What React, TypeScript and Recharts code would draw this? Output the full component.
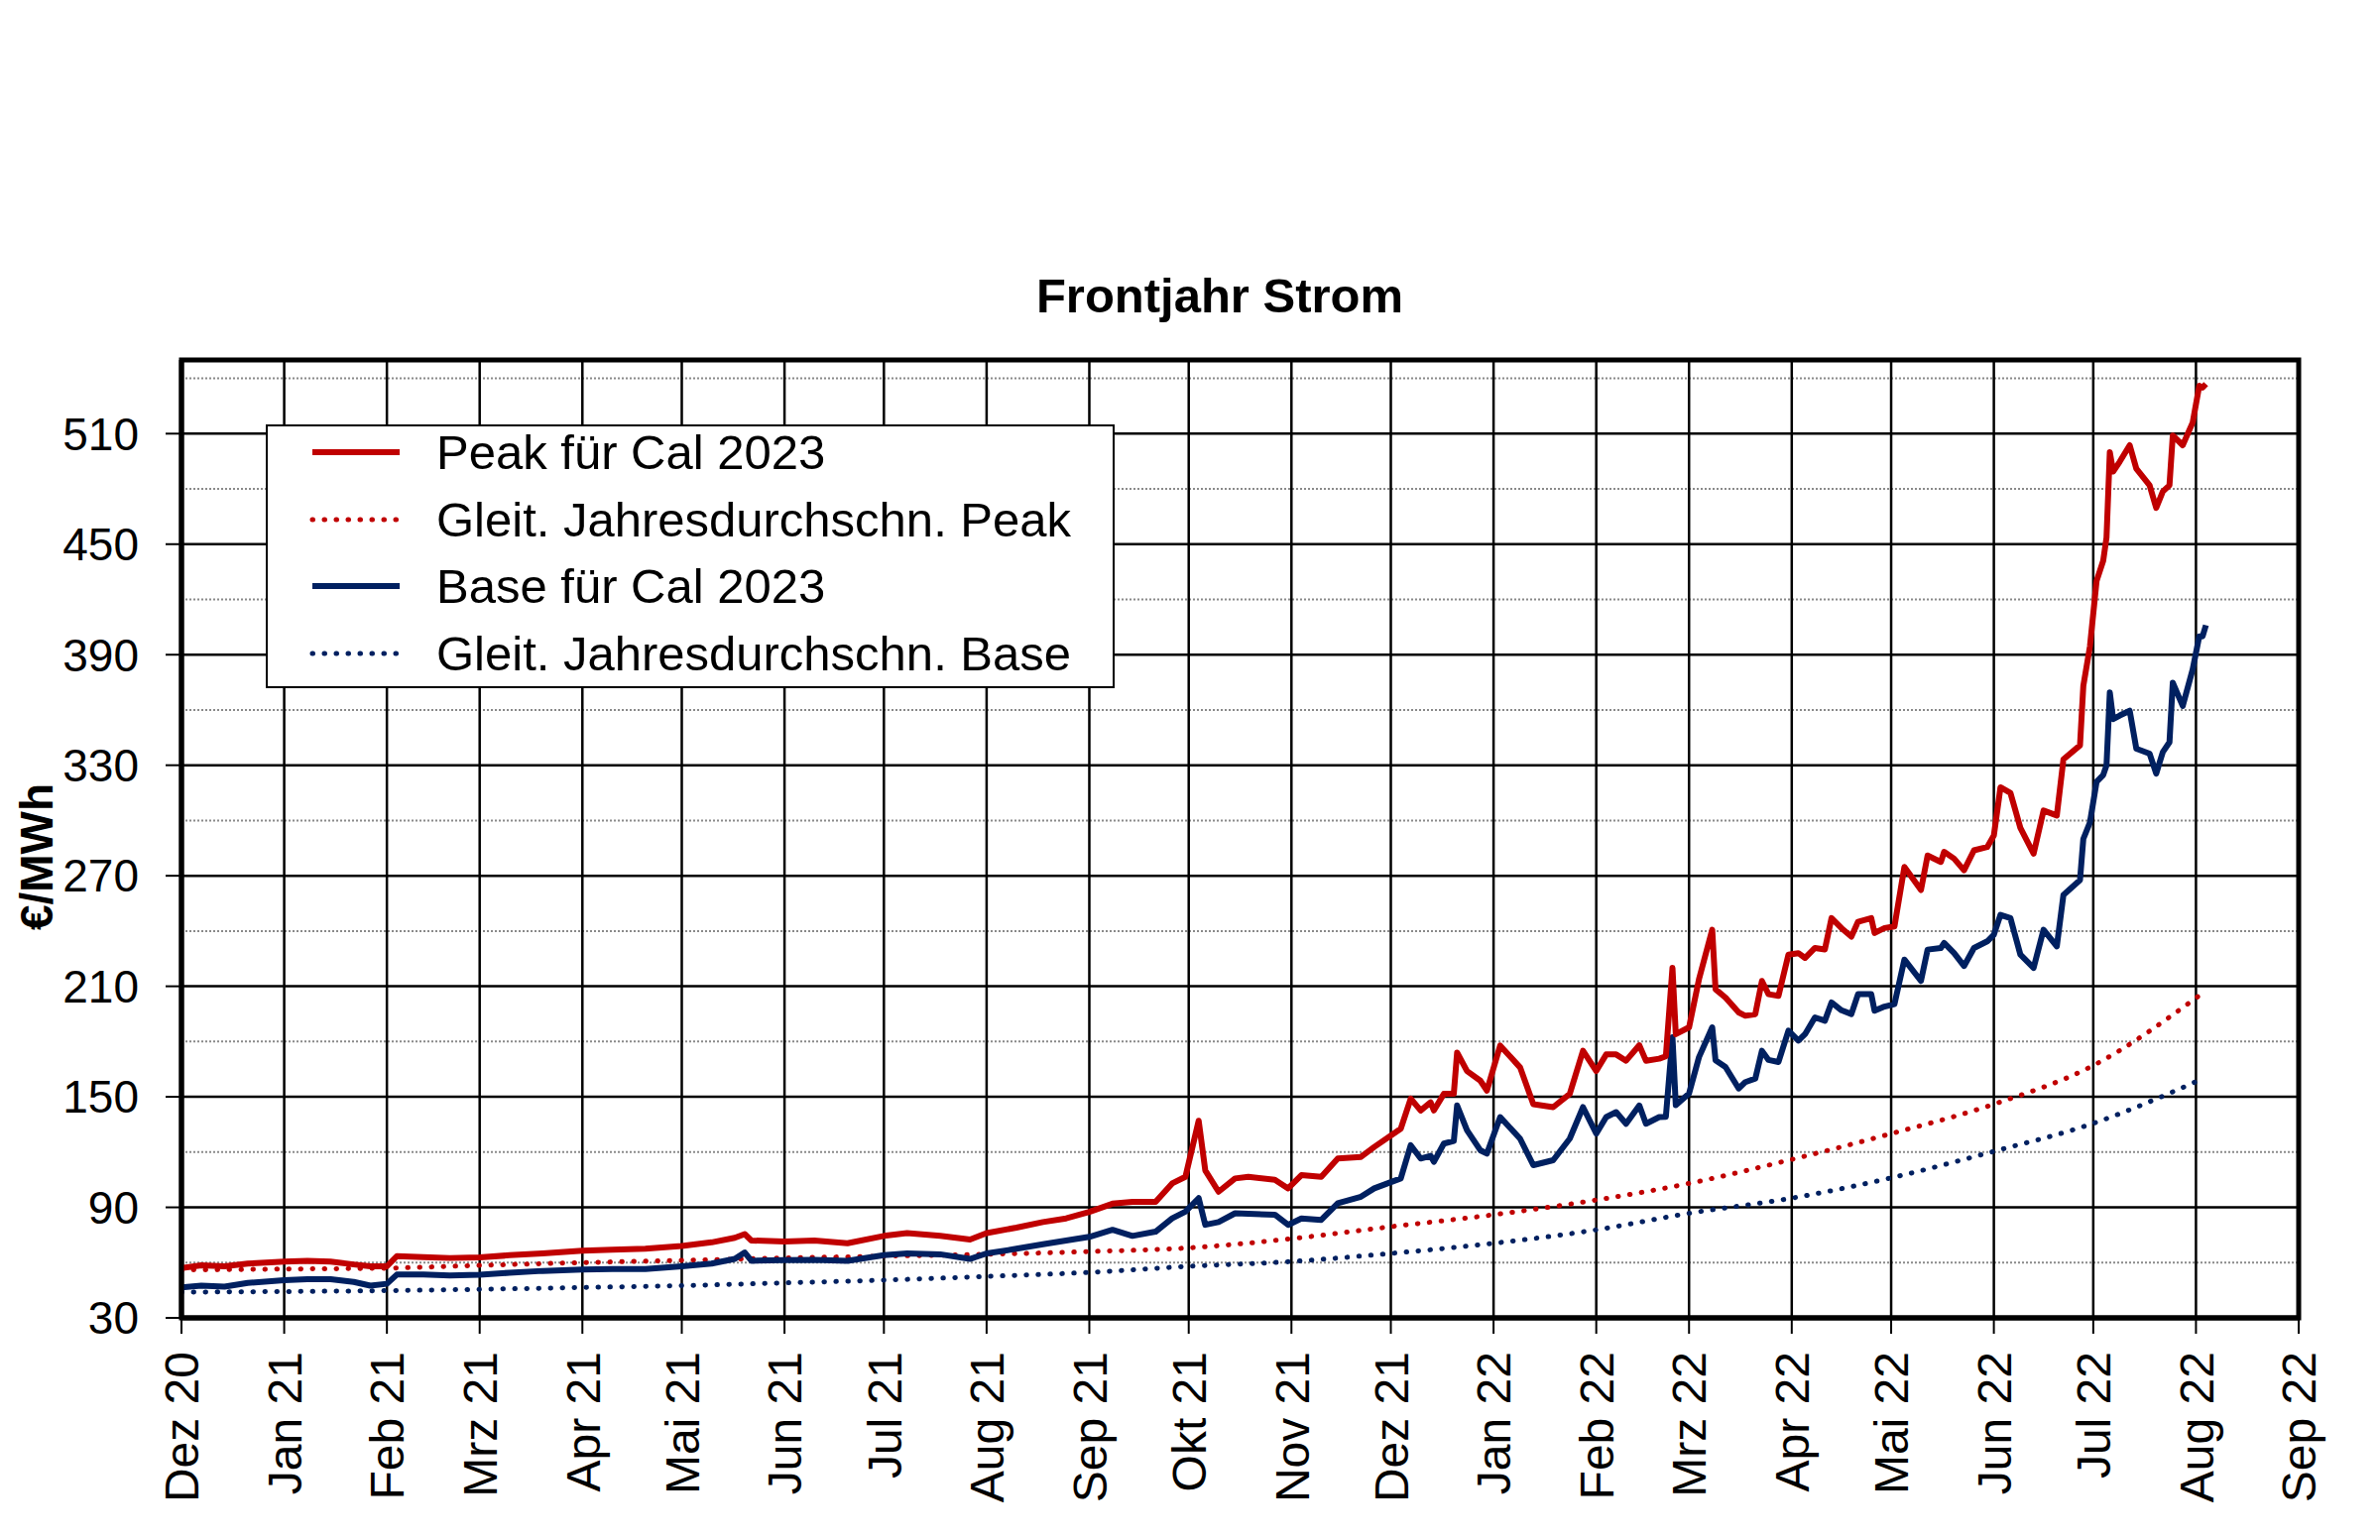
import React from 'react';
import { LineChart, Line, XAxis, YAxis, CartesianGrid, ReferenceArea } from 'recharts';

// ---------- data ----------
const dates = [
  '2020-12-01','2020-12-07','2020-12-14','2020-12-21','2021-01-01','2021-01-08','2021-01-15','2021-01-22','2021-01-27',
  '2021-02-01','2021-02-04','2021-02-12','2021-02-20','2021-03-01','2021-03-10','2021-03-20','2021-04-01','2021-04-10',
  '2021-04-20','2021-05-01','2021-05-10','2021-05-17','2021-05-20','2021-05-22','2021-06-01','2021-06-10','2021-06-20',
  '2021-07-01','2021-07-08','2021-07-18','2021-07-27','2021-08-01','2021-08-10','2021-08-18','2021-08-25','2021-09-01',
  '2021-09-08','2021-09-14','2021-09-21','2021-09-26','2021-09-30','2021-10-04','2021-10-06','2021-10-10','2021-10-15',
  '2021-10-19','2021-10-27','2021-10-31','2021-11-04','2021-11-10','2021-11-15','2021-11-22','2021-11-26','2021-12-04',
  '2021-12-07','2021-12-10','2021-12-13','2021-12-14','2021-12-17','2021-12-20','2021-12-21','2021-12-24','2021-12-28',
  '2021-12-30','2022-01-03','2022-01-09','2022-01-13','2022-01-19','2022-01-24','2022-01-28','2022-02-01','2022-02-04',
  '2022-02-07','2022-02-10','2022-02-14','2022-02-16','2022-02-20','2022-02-22','2022-02-24','2022-02-25','2022-03-01',
  '2022-03-04','2022-03-08','2022-03-09','2022-03-12','2022-03-16','2022-03-18','2022-03-21','2022-03-23','2022-03-25',
  '2022-03-28','2022-03-31','2022-04-03','2022-04-05','2022-04-08','2022-04-11','2022-04-13','2022-04-16','2022-04-19',
  '2022-04-21','2022-04-25','2022-04-26','2022-04-29','2022-05-02','2022-05-05','2022-05-10','2022-05-12','2022-05-16',
  '2022-05-17','2022-05-20','2022-05-23','2022-05-26','2022-05-30','2022-06-01','2022-06-03','2022-06-06','2022-06-09',
  '2022-06-13','2022-06-16','2022-06-20','2022-06-22','2022-06-27','2022-06-28','2022-06-30','2022-07-02','2022-07-04',
  '2022-07-05','2022-07-06','2022-07-07','2022-07-09','2022-07-12','2022-07-14','2022-07-18','2022-07-20','2022-07-22',
  '2022-07-24','2022-07-25','2022-07-28','2022-07-31','2022-08-02','2022-08-03','2022-08-04',
];

const peakValues = [
  57, 58.5, 58, 59.5, 60.5, 61, 60.5, 59, 58,
  58, 63.5, 63, 62.5, 62.8, 64, 65, 66.5, 67,
  67.5, 69, 71, 73.5, 75.5, 72, 71.5, 72, 70.5,
  74.5, 76, 74.5, 72.5, 76, 79, 82, 84, 87.5,
  92, 93, 93, 103, 106.6, 137, 110, 98.5, 105.7,
  106.6, 105, 100.3, 107.5, 106.6, 116.5, 117.4, 122.8, 132.7,
  149, 142.6, 147, 142.6, 151.6, 151.6, 174, 164, 158.8,
  153.4, 177.8, 166, 146, 144.4, 151.6, 175, 164, 173,
  173, 169.6, 178, 169.6, 170.7, 172, 220, 184, 187.7,
  213.8, 240.7, 208.4, 203.9, 195.8, 194, 194.9, 212.9, 205.7,
  204.8, 227.2, 228, 225.4, 230.8, 230, 247, 241.6, 237,
  245, 247, 238.9, 241.6, 242.5, 274.8, 262.3, 281, 277.5,
  283, 279.3, 273, 283.8, 285.6, 291.9, 318, 315, 296,
  282, 305.4, 302.7, 333.2, 340.8, 373, 394.5, 430, 441,
  453.6, 500, 489.4, 494.8, 503.7, 491, 482, 469.7, 478.6,
  482, 509, 503.7, 516, 536, 535, 537,
];

const baseValues = [
  46.5, 47.5, 47, 49, 50.5, 51, 51, 49.5, 47.5,
  48.5, 53.5, 53.5, 53, 53.4, 54.5, 55.5, 56.2, 56.5,
  56.5, 58, 59.5, 62, 65.5, 61, 61.3, 61.5, 61,
  64, 65, 64.5, 62, 65, 67.5, 70, 72, 74,
  77.8, 74.5, 76.8, 84, 87.7, 95, 80.5, 82, 86.8,
  86.5, 86, 80.5, 84, 83.2, 92.2, 95.8, 100.3, 105.7,
  123.7, 116.5, 118, 114.7, 124.6, 126, 145.3, 131.8, 121,
  119.2, 139, 127.3, 112.9, 115.6, 127.3, 144.4, 130, 139,
  141.7, 135.4, 145.3, 135.4, 139, 139.2, 182.3, 145.5, 151.8,
  171.5, 187.7, 169.8, 166.2, 154.5, 158, 159.9, 175, 170,
  168.9, 185.9, 180.5, 184, 193.1, 191.3, 201.2, 197, 194.9,
  205.7, 205.7, 196.7, 199, 200.3, 224.5, 212.9, 229.9, 230.8,
  233.5, 228, 221, 230.8, 234.4, 238, 248.8, 247, 227.2,
  220, 240.7, 231.7, 259.6, 267.6, 290, 299, 321, 324.7,
  330, 369.5, 355, 357, 359.6, 339, 336.3, 325.5, 337.2,
  342.5, 374.8, 362.2, 382, 400, 400, 406,
];

const avgDates = [
  '2020-12-01','2021-01-01','2021-02-01','2021-03-01','2021-04-01','2021-05-01','2021-06-01','2021-07-01',
  '2021-08-01','2021-09-01','2021-10-01','2021-11-01','2021-12-01','2022-01-01','2022-02-01','2022-03-01',
  '2022-04-01','2022-05-01','2022-06-01','2022-07-01','2022-08-02',
];
const peakAvgValues = [56, 56.5, 57, 58.5, 60, 61.2, 62.5, 63.5, 64.5, 66, 68, 73, 79.5, 86, 94, 103, 116, 130, 146, 167, 205];
const baseAvgValues = [44, 44.3, 44.8, 45.5, 46.5, 47.5, 49, 50.5, 52.5, 54.7, 58, 60.6, 65, 70.5, 77.8, 86.8, 95, 106, 120.4, 135.6, 159];

const monthTickDates = [
  '2020-12-01','2021-01-01','2021-02-01','2021-03-01','2021-04-01','2021-05-01','2021-06-01','2021-07-01',
  '2021-08-01','2021-09-01','2021-10-01','2021-11-01','2021-12-01','2022-01-01','2022-02-01','2022-03-01',
  '2022-04-01','2022-05-01','2022-06-01','2022-07-01','2022-08-01','2022-09-01',
];
const monthLabels = [
  'Dez 20','Jan 21','Feb 21','Mrz 21','Apr 21','Mai 21','Jun 21','Jul 21','Aug 21','Sep 21','Okt 21',
  'Nov 21','Dez 21','Jan 22','Feb 22','Mrz 22','Apr 22','Mai 22','Jun 22','Jul 22','Aug 22','Sep 22',
];

const yMajorTicks = [30, 90, 150, 210, 270, 330, 390, 450, 510];
const yMinorLines = [60, 120, 180, 240, 300, 360, 420, 480, 540];

const seriesNames = [
  'Peak für Cal 2023',
  'Gleit. Jahresdurchschn. Peak',
  'Base für Cal 2023',
  'Gleit. Jahresdurchschn. Base',
];
const title = 'Frontjahr Strom';
const yAxisTitle = '€/MWh';

// ---------- helpers ----------
const START = Date.UTC(2020, 11, 1);
const toDay = (s: string) =>
  (Date.UTC(+s.slice(0, 4), +s.slice(5, 7) - 1, +s.slice(8, 10)) - START) / 86400000;

const mainRows = dates.map((d, i) => ({ t: toDay(d), peak: peakValues[i], base: baseValues[i] }));
const avgRows = avgDates.map((d, i) => ({ t: toDay(d), peakAvg: peakAvgValues[i], baseAvg: baseAvgValues[i] }));
const monthTicks = monthTickDates.map(toDay);
const labelByTick: Record<number, string> = {};
monthTicks.forEach((t, i) => (labelByTick[t] = monthLabels[i]));

const RED = '#c00000';
const NAVY = '#002060';
const FONT = '"Liberation Sans", Arial, sans-serif';
const DOT = '0.5 11.5';

const XTick = (props: any) => {
  const { x, y, payload } = props;
  return (
    <text
      x={x}
      y={y}
      transform={`rotate(-90, ${x}, ${y})`}
      textAnchor="end"
      dy="0.36em"
      fontSize={48}
      fontFamily={FONT}
      fill="#000"
    >
      {labelByTick[payload.value]}
    </text>
  );
};

const YLabel = (props: any) => {
  const vb = props.viewBox || { x: 0, y: 363, width: 183, height: 966 };
  const cx = vb.x + 36;
  const cy = vb.y + vb.height / 2 + 18;
  return (
    <text
      x={cx}
      y={cy}
      transform={`rotate(-90, ${cx}, ${cy})`}
      textAnchor="middle"
      dy="0.36em"
      fontSize={46}
      fontWeight="bold"
      fontFamily={FONT}
      fill="#000"
    >
      {yAxisTitle}
    </text>
  );
};

const LegendBox = () => {
  const styles = [
    { color: RED, dash: undefined as string | undefined },
    { color: RED, dash: DOT },
    { color: NAVY, dash: undefined as string | undefined },
    { color: NAVY, dash: DOT },
  ];
  return (
    <div
      style={{
        position: 'absolute',
        left: 268,
        top: 428,
        width: 852,
        height: 262,
        background: '#fff',
        border: '2px solid #000',
        fontFamily: FONT,
      }}
    >
      {seriesNames.map((n, i) => (
        <div
          key={n}
          style={{
            position: 'absolute',
            left: 42,
            top: -7 + i * 67.5,
            height: 66,
            display: 'flex',
            alignItems: 'center',
            whiteSpace: 'nowrap',
          }}
        >
          <svg width={94} height={20} style={{ display: 'block' }}>
            <line
              x1={3}
              y1={10}
              x2={91}
              y2={10}
              stroke={styles[i].color}
              strokeWidth={styles[i].dash ? 5 : 6}
              strokeDasharray={styles[i].dash}
              strokeLinecap={styles[i].dash ? 'round' : 'butt'}
            />
          </svg>
          <span style={{ marginLeft: 34, fontSize: 49, color: '#000', lineHeight: '66px' }}>{n}</span>
        </div>
      ))}
    </div>
  );
};

export default function App() {
  return (
    <div style={{ position: 'absolute', left: 0, top: 0, width: 2400, height: 1553, background: '#fff' }}>
      <div
        style={{
          position: 'absolute',
          left: 0,
          width: 2460,
          top: 268,
          textAlign: 'center',
          fontFamily: FONT,
          fontWeight: 'bold',
          fontSize: 49,
          lineHeight: '60px',
          color: '#000',
        }}
      >
        {title}
      </div>
      <LineChart
        width={2400}
        height={1553}
        margin={{ top: 363, right: 82, left: 0, bottom: 0 }}
        style={{ position: 'absolute', left: 0, top: 0 }}
      >
        <CartesianGrid
          horizontal
          vertical={false}
          horizontalValues={yMinorLines}
          stroke="#8a8a8a"
          strokeWidth={2}
          strokeDasharray="2 2"
        />
        <CartesianGrid
          horizontal
          vertical
          horizontalValues={yMajorTicks}
          verticalValues={monthTicks}
          stroke="#000"
          strokeWidth={2.5}
        />
        <XAxis
          type="number"
          dataKey="t"
          domain={[monthTicks[0], monthTicks[monthTicks.length - 1]]}
          ticks={monthTicks}
          interval={0}
          height={224}
          tickSize={16}
          tickMargin={18}
          tickLine={{ stroke: '#000', strokeWidth: 2 }}
          axisLine={{ stroke: '#000', strokeWidth: 5 }}
          tick={<XTick />}
          allowDataOverflow
        />
        <YAxis
          type="number"
          domain={[30, 550]}
          ticks={yMajorTicks}
          interval={0}
          width={183}
          tickSize={16}
          tickMargin={27}
          tickLine={{ stroke: '#000', strokeWidth: 2 }}
          axisLine={{ stroke: '#000', strokeWidth: 5 }}
          tick={{ fontSize: 46, fill: '#000', fontFamily: FONT }}
          label={<YLabel />}
          allowDataOverflow
        />
        <ReferenceArea
          x1={monthTicks[0]}
          x2={monthTicks[monthTicks.length - 1]}
          y1={30}
          y2={550}
          fill="none"
          fillOpacity={0}
          stroke="#000"
          strokeWidth={5}
          ifOverflow="visible"
        />
        <Line
          data={avgRows}
          dataKey="peakAvg"
          type="monotone"
          stroke={RED}
          strokeWidth={5}
          strokeDasharray={DOT}
          strokeLinecap="round"
          dot={false}
          activeDot={false}
          isAnimationActive={false}
        />
        <Line
          data={avgRows}
          dataKey="baseAvg"
          type="monotone"
          stroke={NAVY}
          strokeWidth={5}
          strokeDasharray={DOT}
          strokeLinecap="round"
          dot={false}
          activeDot={false}
          isAnimationActive={false}
        />
        <Line
          data={mainRows}
          dataKey="base"
          type="linear"
          stroke={NAVY}
          strokeWidth={6}
          strokeLinejoin="round"
          dot={false}
          activeDot={false}
          isAnimationActive={false}
        />
        <Line
          data={mainRows}
          dataKey="peak"
          type="linear"
          stroke={RED}
          strokeWidth={6}
          strokeLinejoin="round"
          dot={false}
          activeDot={false}
          isAnimationActive={false}
        />
      </LineChart>
      <LegendBox />
    </div>
  );
}
